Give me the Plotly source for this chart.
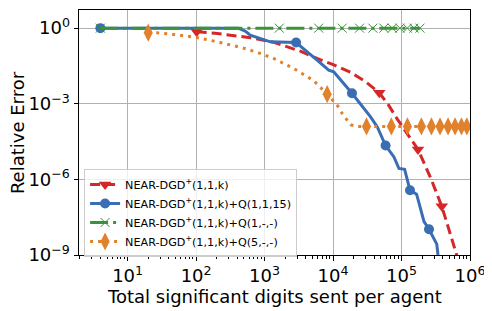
import plotly.graph_objects as go

# ---------------- data ----------------
red_x = [102, 190, 315, 618, 1340, 1900, 3330, 5850, 10100, 18000, 29800, 47300,
         64800, 86800, 123000, 174000, 267000, 387000, 641000, 785000]
red_y = [0.713, 0.633, 0.527, 0.420, 0.278, 0.202, 0.122, 0.0628, 0.0356, 0.0180,
         0.00753, 0.00271, 8.8e-4, 2.45e-4, 6.2e-5, 1.54e-5, 1.12e-6, 8.6e-8, 9.8e-10, 1e-10]
red_marks = [0, 11, 15, 17]

blue_x = [4, 412, 521, 618, 1213, 2885, 5850, 8650, 10230, 18900, 35300, 44300,
          58500, 77500, 91700, 111000, 133000, 166000, 213000, 252000, 327000, 341000, 374000]
blue_y = [1, 1, 0.76, 0.53, 0.286, 0.27, 0.054, 0.0215, 0.0184, 2.6e-3, 3.0e-4, 1.2e-4,
          2.2e-5, 7.8e-6, 2.7e-6, 2.5e-6, 3.7e-7, 2.6e-7, 2.1e-8, 1.05e-8, 2.7e-9, 1e-9, 3e-10]
blue_marks = [0, 5, 9, 12, 16, 19]

green_x = [4, 1640, 6180, 13600, 24400, 38100, 55200, 73300, 94800, 121700, 152000, 186000]
green_y = [1.0, 1.0, 1.0, 1.0, 1.0, 1.0, 1.0, 1.0, 1.0, 1.0, 1.0, 1.0]
green_marks = list(range(len(green_x)))

orange_x = [20, 26.6, 46.6, 102, 224, 493, 817, 1356, 2660, 5210, 8200, 11500, 13600,
            18000, 22500, 30800, 71000, 122000, 195000, 273000, 365000, 478000, 605000,
            750000, 898000]
orange_y = [0.663, 0.651, 0.562, 0.428, 0.271, 0.161, 0.105, 0.0628, 0.0252, 0.00826,
            0.0024, 8.8e-4, 4.12e-4, 1.48e-4, 1.26e-4, 1.26e-4, 1.26e-4, 1.26e-4, 1.26e-4,
            1.26e-4, 1.26e-4, 1.26e-4, 1.26e-4, 1.26e-4, 1.26e-4]
orange_marks = [0, 10] + list(range(15, 25))

names = ["NEAR-DGD<sup>+</sup>(1,1,k)",
         "NEAR-DGD<sup>+</sup>(1,1,k)+Q(1,1,15)",
         "NEAR-DGD<sup>+</sup>(1,1,k)+Q(1,-,-)",
         "NEAR-DGD<sup>+</sup>(1,1,k)+Q(5,-,-)"]

x_tick_vals = [1e1, 1e2, 1e3, 1e4, 1e5, 1e6]
x_tick_text = ["10<sup>1</sup>", "10<sup>2</sup>", "10<sup>3</sup>",
               "10<sup>4</sup>", "10<sup>5</sup>", "10<sup>6</sup>"]
y_tick_vals = [1, 1e-3, 1e-6, 1e-9]
y_tick_text = ["10<sup>0</sup>", "10<sup>−3</sup>", "10<sup>−6</sup>", "10<sup>−9</sup>"]
x_title = "Total significant digits sent per agent"
y_title = "Relative Error"

# ---------------- styles ----------------
RED, BLUE, GREEN, ORANGE = "#d62728", "#3a6db4", "#3a923a", "#e1812c"
series = [
    (red_x, red_y, red_marks, RED, "10px,5px",
     dict(symbol="triangle-down", size=11, color=RED)),
    (blue_x, blue_y, blue_marks, BLUE, "solid",
     dict(symbol="circle", size=10, color=BLUE)),
    (green_x, green_y, green_marks, GREEN, "18px,5px,3px,5px",
     dict(symbol="x-thin", size=9, color=GREEN, line=dict(color=GREEN, width=1))),
    (orange_x, orange_y, orange_marks, ORANGE, "3px,5px",
     dict(symbol="diamond-tall", size=13, color=ORANGE)),
]

fig = go.Figure()
for (xs, ys, mk, col, dash, mstyle) in series:
    fig.add_trace(go.Scatter(x=xs, y=ys, mode="lines", showlegend=False,
                             line=dict(color=col, width=3, dash=dash), hoverinfo="skip"))
    fig.add_trace(go.Scatter(x=[xs[i] for i in mk], y=[ys[i] for i in mk], mode="markers",
                             showlegend=False, marker=mstyle, hoverinfo="skip"))
for (xs, ys, mk, col, dash, mstyle), nm in zip(series, names):
    fig.add_trace(go.Scatter(x=[None], y=[None], mode="lines+markers", name=nm,
                             line=dict(color=col, width=3, dash=dash), marker=mstyle))

font = "DejaVu Sans"
minor_x = [m * 10 ** e for e in range(0, 6) for m in range(2, 10) if 1.9 <= m * 10 ** e <= 1e6]

# the page body has an 8px margin, so the figure is 8px smaller and shifted
fig.update_layout(
    width=484, height=303,
    margin=dict(l=71, r=22, t=2, b=56, autoexpand=False),
    paper_bgcolor="white", plot_bgcolor="white",
    font=dict(family=font, color="black"),
    legend=dict(x=0.013, y=0.351, xanchor="left", yanchor="top",
                bgcolor="rgba(255,255,255,0.8)", bordercolor="#cccccc", borderwidth=1,
                font=dict(size=11.2, family=font), itemwidth=30,
                tracegroupgap=0),
    annotations=[
        dict(text=x_title, xref="paper", yref="paper", x=0.5, y=-0.168,
             xanchor="center", yanchor="middle", showarrow=False,
             font=dict(size=18, family=font)),
        dict(text=y_title, xref="paper", yref="paper", x=-0.157, y=0.5,
             xanchor="center", yanchor="middle", showarrow=False, textangle=-90,
             font=dict(size=18, family=font)),
    ],
)
fig.update_xaxes(
    type="log", range=[0.29, 6.0], automargin=False,
    tickmode="array", tickvals=x_tick_vals, ticktext=x_tick_text,
    tickfont=dict(size=18, family=font),
    ticks="outside", ticklen=4.5, tickwidth=1, tickcolor="black",
    showgrid=True, gridcolor="#b0b0b0", gridwidth=0.8,
    showline=True, linecolor="black", linewidth=1, mirror=True,
    minor=dict(tickvals=minor_x, ticks="outside", ticklen=2.5, tickcolor="black",
               showgrid=False),
    zeroline=False,
)
fig.update_yaxes(
    type="log", range=[-9, 0.72], automargin=False,
    tickmode="array", tickvals=y_tick_vals, ticktext=y_tick_text,
    tickfont=dict(size=18, family=font),
    ticks="outside", ticklen=4.5, tickwidth=1, tickcolor="black",
    showgrid=True, gridcolor="#b0b0b0", gridwidth=0.8,
    showline=True, linecolor="black", linewidth=1, mirror=True,
    zeroline=False,
)
fig.write_html("out.html")
